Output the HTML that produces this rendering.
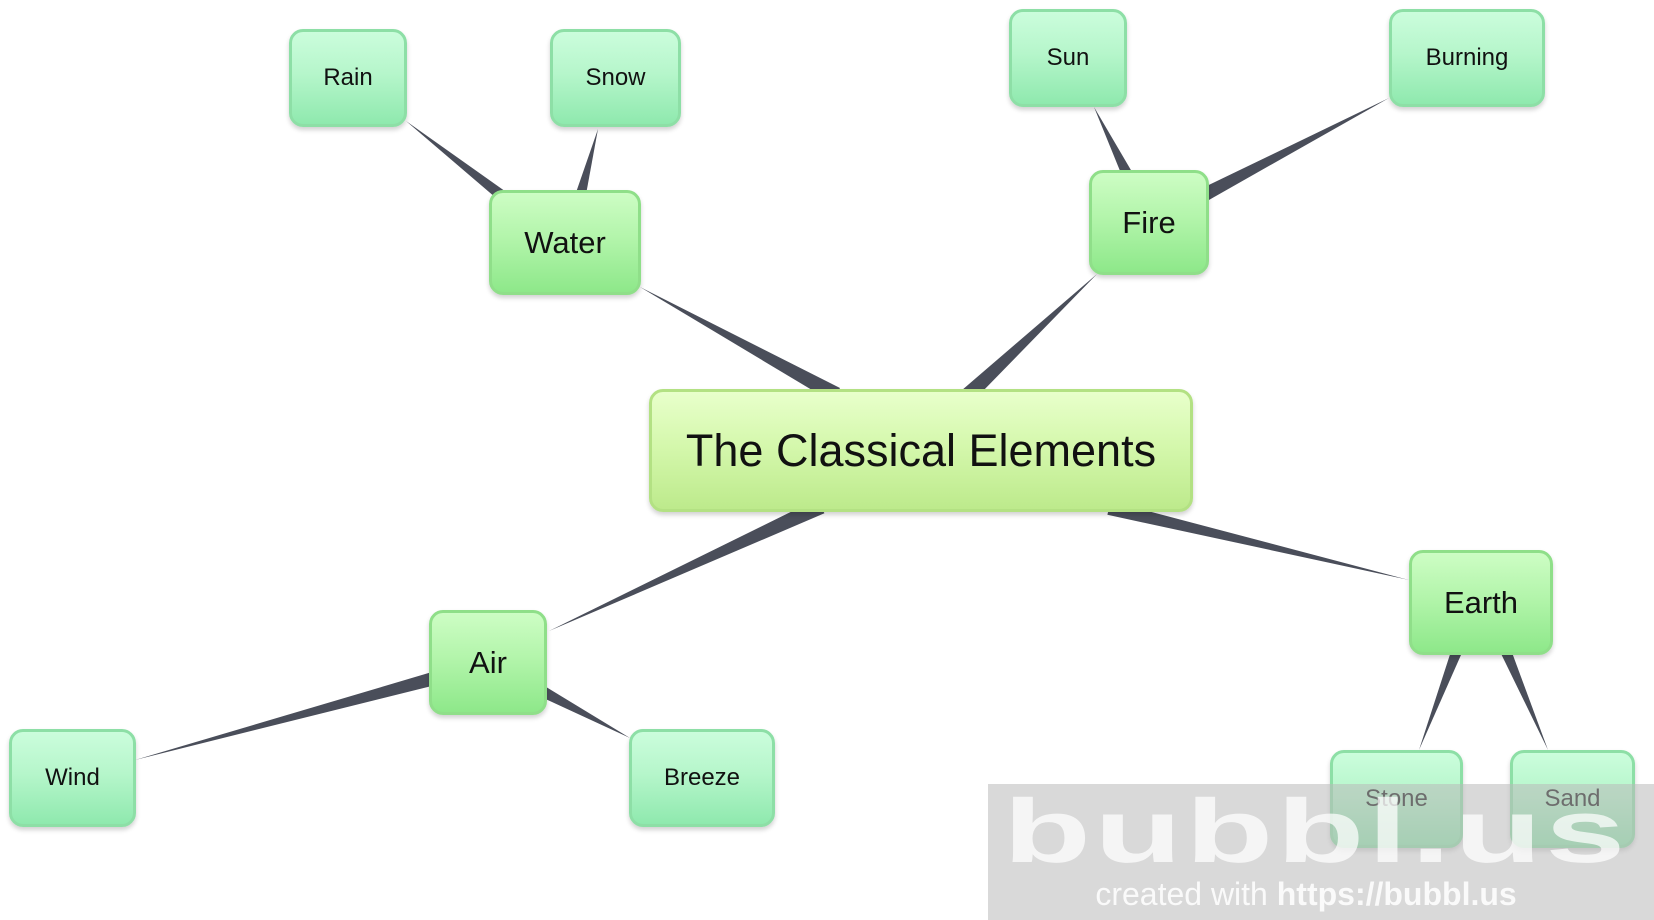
<!DOCTYPE html>
<html><head><meta charset="utf-8"><style>
html,body{margin:0;padding:0;width:1654px;height:920px;overflow:hidden;background:#fff;font-family:"Liberation Sans",sans-serif}
.n{position:absolute;box-sizing:border-box;border-radius:14px;display:flex;align-items:center;justify-content:center;color:#111;box-shadow:0 3px 5px rgba(0,0,0,0.18)}
.l{border:3px solid #8ddfa6;background:linear-gradient(#cbfddc,#b6f6cb 45%,#8fe9ae);font-size:24px}
.m{border:3px solid #8fdf89;background:linear-gradient(#cdfdc4,#b3f5ab 45%,#8ee88a);font-size:31px}
.c{border:3px solid #b3e183;background:linear-gradient(#e8ffcb,#d5f8ad 45%,#bdea8c);font-size:45px}
</style></head><body>
<svg width="1654" height="920" style="position:absolute;left:0;top:0">
<g fill="#4a4e5a">
<polygon points="840,388 832,402 640,287"/>
<polygon points="970.5,403.8 959.5,392.2 1097,274"/>
<polygon points="817.6,498.7 824.4,513.3 549,631"/>
<polygon points="1107.4,514.8 1110.6,501.2 1409,580"/>
<polygon points="513.7,197.3 506.3,206.7 406,121"/>
<polygon points="583.8,206.5 572.2,203.5 598,129"/>
<polygon points="1136.4,179.4 1125.6,184.6 1094,107"/>
<polygon points="1203.2,203.2 1196.8,190.8 1389,98"/>
<polygon points="441.2,669.3 444.8,682.7 135,760"/>
<polygon points="535.2,694.3 540.8,683.7 630,738"/>
<polygon points="1455.4,637.8 1466.6,642.2 1419,750"/>
<polygon points="1495.5,642.4 1506.5,637.6 1548,750"/>
</g></svg>
<div class="n l" style="left:289px;top:29px;width:118px;height:98px">Rain</div>
<div class="n l" style="left:550px;top:29px;width:131px;height:98px">Snow</div>
<div class="n l" style="left:1009px;top:9px;width:118px;height:98px">Sun</div>
<div class="n l" style="left:1389px;top:9px;width:156px;height:98px">Burning</div>
<div class="n m" style="left:489px;top:190px;width:152px;height:105px">Water</div>
<div class="n m" style="left:1089px;top:170px;width:120px;height:105px">Fire</div>
<div class="n c" style="left:649px;top:389px;width:544px;height:123px">The Classical Elements</div>
<div class="n m" style="left:1409px;top:550px;width:144px;height:105px">Earth</div>
<div class="n m" style="left:429px;top:610px;width:118px;height:105px">Air</div>
<div class="n l" style="left:9px;top:729px;width:127px;height:98px">Wind</div>
<div class="n l" style="left:629px;top:729px;width:146px;height:98px">Breeze</div>
<div class="n l" style="left:1330px;top:750px;width:133px;height:98px">Stone</div>
<div class="n l" style="left:1510px;top:750px;width:125px;height:98px">Sand</div>
<div style="position:absolute;left:988px;top:784px;width:666px;height:136px;background:rgba(185,185,185,0.55)"></div>
<div style="position:absolute;left:1003px;top:787px;white-space:nowrap;font-size:90px;font-weight:bold;color:rgba(255,255,255,0.72);letter-spacing:2px;line-height:90px;transform:scaleX(1.6);transform-origin:0 0">bubbl.us</div>
<div style="position:absolute;left:988px;top:874px;width:666px;text-align:center;font-size:32px;color:rgba(255,255,255,0.85);line-height:40px;padding-right:30px;box-sizing:border-box">created with <b>https://bubbl.us</b></div>
</body></html>
